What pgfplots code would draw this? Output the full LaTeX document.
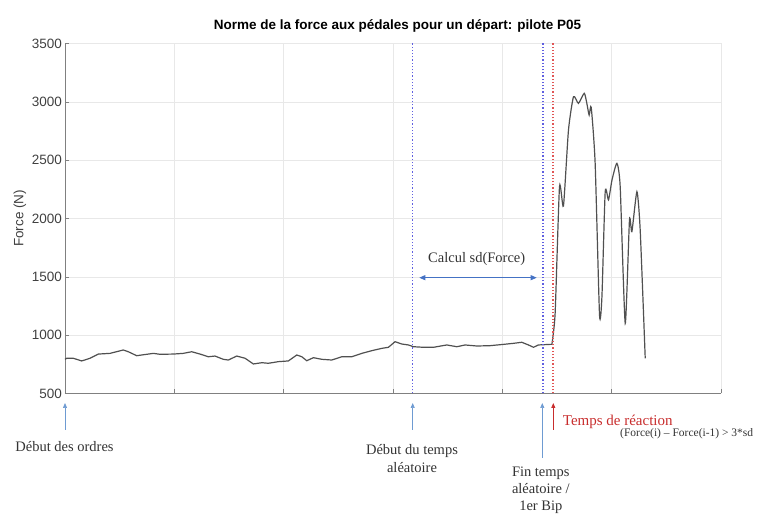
\documentclass[border=0pt]{standalone}
\usepackage{pgfplots}
\pgfplotsset{compat=1.18}
\usetikzlibrary{arrows.meta}
\usepackage{fontspec}
\setmainfont{Liberation Serif}
\newfontfamily\arial{Liberation Sans}
\definecolor{curve}{RGB}{80,80,80}
\definecolor{dotblue}{RGB}{95,95,225}
\definecolor{dotred}{RGB}{225,85,85}
\definecolor{arrblue}{RGB}{110,155,210}
\definecolor{sdblue}{RGB}{68,114,196}
\definecolor{rxred}{RGB}{200,45,45}
\pgfplotstableread{
x y
0.000 793
0.016 802
0.076 802
0.153 779
0.229 802
0.305 838
0.412 844
0.533 873
0.579 858
0.656 824
0.747 836
0.808 844
0.869 836
0.991 838
1.082 844
1.159 858
1.235 838
1.311 815
1.372 821
1.448 793
1.494 787
1.571 821
1.647 802
1.723 753
1.800 764
1.860 759
1.952 773
2.043 779
2.120 830
2.166 815
2.211 781
2.272 807
2.349 793
2.440 787
2.532 815
2.623 815
2.715 844
2.806 867
2.898 887
2.958 896
3.019 944
3.081 924
3.141 916
3.187 901
3.278 896
3.370 896
3.492 916
3.584 901
3.660 916
3.767 907
3.888 910
4.010 921
4.102 930
4.178 939
4.239 916
4.285 896
4.330 916
4.437 921
4.453 921
}\flat
\pgfplotstableread{
x y
4.453 921
4.483 1187
4.523 2273
4.559 2107
4.605 2758
4.651 3044
4.696 2987
4.749 3073
4.773 2987
4.794 2887
4.813 2953
4.849 2473
4.889 1173
4.911 1330
4.941 2230
4.971 2159
5.003 2330
5.048 2473
5.078 2273
5.124 1102
5.163 1987
5.185 1887
5.231 2230
5.261 1901
5.307 802
}\peak
\begin{document}
\begin{tikzpicture}[x=1pt,y=1pt]
\begin{axis}[
  at={(0,0)}, anchor=south west,
  scale only axis, width=656pt, height=350pt,
  xmin=0, xmax=6, ymin=500, ymax=3500,
  xtick={0,1,...,6}, xticklabels={},
  ytick={500,1000,...,3500},
  axis x line*=bottom, axis y line*=left,
  axis line style={-, draw=black!50, line width=0.7pt},
  tick align=inside, major tick length=4pt,
  tick style={draw=black!50, line width=0.6pt},
  grid=major, grid style={draw=black!9, line width=0.6pt},
  /pgf/number format/assume math mode=true,
  /pgf/number format/1000 sep={},
  yticklabel style={font=\arial\fontsize{13.5}{13.5}\selectfont, text=black!75, inner sep=0pt, xshift=-3pt},
  ylabel={Force (N)},
  ylabel style={font=\arial\fontsize{13.5}{13.5}\selectfont, text=black!75, at={(axis description cs:-0.0686,0.5)}, anchor=center},
  title={Norme de la force aux pédales pour un départ: pilote P05},
  title style={font=\arial\bfseries\fontsize{13.5}{13.5}\selectfont, at={(axis description cs:0.507,1.033)}, anchor=center},
  clip=false,
]
\addplot[curve, line width=1.2pt] table[x=x,y=y] {\flat};
\addplot[curve, line width=1.2pt, smooth, tension=0.35] table[x=x,y=y] {\peak};
\draw[dotblue, line width=1.6pt, dash pattern=on 1.2pt off 2pt] (axis cs:3.18,500) -- (axis cs:3.18,3500);
\draw[dotblue, line width=1.6pt, dash pattern=on 1.2pt off 2pt] (axis cs:4.37,500) -- (axis cs:4.37,3500);
\draw[dotred, line width=1.4pt, dash pattern=on 1.2pt off 2pt] (axis cs:4.465,500) -- (axis cs:4.465,3500);
\end{axis}
% annotations (pt relative to axis lower-left corner)
\draw[sdblue, line width=1pt, {Triangle[length=6pt,width=5pt]}-{Triangle[length=6pt,width=5pt]}] (354.3,115.8) -- (471.7,115.8);
\node[font=\fontsize{14.5}{14.5}\selectfont, text=black!80] at (411.7,134.5) {Calcul sd(Force)};
\draw[arrblue, line width=0.7pt, -{Triangle[length=5pt,width=4pt]}] (0,-36.5) -- (0,-9.5);
\draw[arrblue, line width=0.7pt, -{Triangle[length=5pt,width=4pt]}] (347.7,-36.5) -- (347.7,-9.5);
\draw[arrblue, line width=0.7pt, -{Triangle[length=5pt,width=4pt]}] (477.3,-64.5) -- (477.3,-9.5);
\draw[rxred, line width=0.8pt, -{Triangle[length=5pt,width=4pt]}] (488.3,-36.5) -- (488.3,-9.5);
\node[font=\fontsize{14.5}{14.5}\selectfont, text=black!80] at (-0.5,-53.2) {Début des ordres};
\node[font=\fontsize{14.5}{18}\selectfont, text=black!80, align=center] at (347,-65.5) {Début du temps\\aléatoire};
\node[font=\fontsize{14.5}{17}\selectfont, text=black!80, align=center] at (475.8,-96.5) {Fin temps\\aléatoire /\\1er Bip};
\node[font=\fontsize{15}{15}\selectfont, text=rxred, anchor=west, inner sep=0pt] at (497.7,-28.2) {Temps de réaction};
\node[font=\fontsize{11.5}{11.5}\selectfont, text=black!80, anchor=west, inner sep=0pt] at (555,-39.8) {(Force(i) – Force(i-1) > 3*sd};
\pgfresetboundingbox
\path[use as bounding box] (-65,-120.5) rectangle (699,393.5);
\end{tikzpicture}
\end{document}
